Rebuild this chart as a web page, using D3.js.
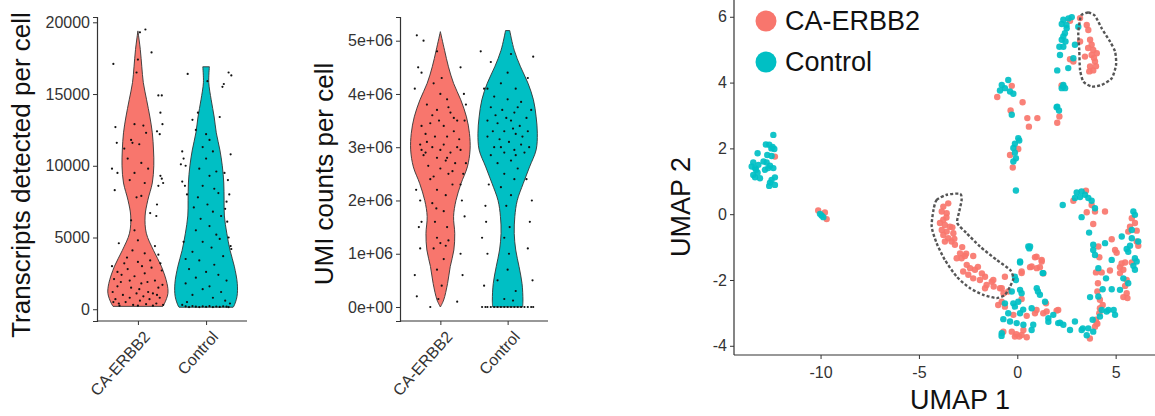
<!DOCTYPE html>
<html>
<head>
<meta charset="utf-8">
<script src="https://cdn.jsdelivr.net/npm/d3@7"></script>
<style>
  body { margin: 0; background: #fff; }
  svg { display: block; font-family: "Liberation Sans", Arial, sans-serif; }
  .tick text { fill: #333; }
  .tick line, .axis-line { stroke: #333; }
</style>
</head>
<body>
<svg id="chart" width="1155" height="416"></svg>
<script>
// ---- data ----
const groups = ['CA-ERBB2', 'Control']
const groupColors = ['#F8766D', '#00BFC4']

// violin outlines (value, relative density)
const transcriptsCaLevels = [19400, 18100, 16900, 15800, 14600, 13400, 12300, 11100, 10000, 8800, 7600, 6500, 5300, 4100, 3000, 1800, 1100, 420, 200]
const transcriptsCaDensity = [0, 0.08, 0.13, 0.18, 0.29, 0.40, 0.48, 0.52, 0.53, 0.48, 0.33, 0.24, 0.28, 0.52, 0.78, 0.97, 1.0, 0.89, 0.83]
const transcriptsCtlLevels = [16900, 15800, 14600, 13400, 12300, 11100, 10000, 8800, 7600, 6500, 5300, 4100, 3000, 1800, 880, 230, 140]
const transcriptsCtlDensity = [0.11, 0.09, 0.17, 0.27, 0.34, 0.46, 0.54, 0.59, 0.60, 0.61, 0.69, 0.80, 0.94, 1.04, 1.03, 0.93, 0.9]

const umiCaLevels = [5.17e6, 4.82e6, 4.51e6, 4.2e6, 3.89e6, 3.57e6, 3.26e6, 2.95e6, 2.63e6, 2.32e6, 2.0e6, 1.7e6, 1.38e6, 1.07e6, 0.76e6, 0.44e6, 0.13e6, 0]
const umiCaDensity = [0, 0.14, 0.27, 0.44, 0.68, 0.87, 0.97, 0.99, 0.9, 0.69, 0.52, 0.44, 0.48, 0.45, 0.33, 0.24, 0.11, 0]
const umiCtlLevels = [5.19e6, 4.82e6, 4.51e6, 4.2e6, 3.89e6, 3.57e6, 3.26e6, 2.95e6, 2.63e6, 2.32e6, 2.0e6, 1.7e6, 1.38e6, 1.07e6, 0.76e6, 0.44e6, 0.13e6, 0]
const umiCtlDensity = [0.07, 0.22, 0.43, 0.68, 0.86, 0.95, 0.99, 0.95, 0.73, 0.52, 0.32, 0.24, 0.22, 0.27, 0.38, 0.48, 0.51, 0.5]

// jittered cells: [jitter offset in group units, value]
const transcriptsCaCells = [
  [-0.36,17100],[0.03,19300],[0.11,19500],[0.2,17900],[-0.02,16500],[0.0,17400],[0.3,14900],[0.35,14900],[0.33,13700],[-0.33,12700],
  [-0.31,11600],[0.36,12900],[0.32,12200],[0.28,12400],[-0.05,12900],[0.08,12800],[0.12,12300],[-0.1,11800],[-0.38,9800],[-0.34,8300],
  [-0.3,9500],[0.35,9100],[0.37,8800],[0.33,9300],[0.3,8600],[0.27,6500],[0.28,7300],[-0.2,11200],[-0.08,11600],[0.02,11500],
  [-0.15,10500],[0.05,10200],[0.15,9800],[-0.05,9500],[-0.12,9000],[0.1,8800],[0.05,7900],[-0.02,7800],[0.18,6700],[-0.1,6200],
  [-0.28,4600],[0.3,3800],[0.25,4400],[0.0,4800],[-0.05,5500],[0.1,3900],
  [-0.38,3000],[-0.35,2100],[-0.3,2600],[-0.25,1900],[-0.2,3200],[-0.15,2800],[-0.1,1500],[-0.05,2300],[0.0,3300],[0.05,1800],
  [0.1,2500],[0.15,1200],[0.2,2900],[0.25,2000],[0.3,1500],[0.35,2700],[-0.37,1200],[-0.33,700],[-0.28,400],[-0.22,1000],
  [-0.18,500],[-0.12,800],[-0.07,300],[-0.02,1100],[0.03,600],[0.08,900],[0.12,350],[0.17,700],[0.22,1100],[0.27,400],
  [0.32,800],[0.37,300],[-0.3,1600],[-0.12,2000],[0.02,1400],[0.14,1900],[0.28,1000],[-0.24,2400],[0.06,3000],[0.18,3400],
  [-0.16,3600],[0.33,3200],[-0.08,4100],[0.22,250],[-0.27,250],[0.0,250],[-0.36,500],[0.36,1700]
]
const transcriptsCtlCells = [
  [-0.27,16400],[0.02,15900],[0.33,16500],[0.37,16300],[0.26,15700],[0.24,15500],[-0.12,13700],[0.2,13400],[-0.2,13200],[-0.35,11000],
  [-0.33,10500],[-0.37,10100],[-0.3,10000],[0.36,10800],[0.27,9500],[0.32,9000],[0.34,8000],[0.3,7500],[0.28,7000],[0.31,6100],
  [0.33,5000],[0.36,4400],[0.37,4200],[-0.33,4700],[-0.3,3500],[-0.35,8900],[-0.31,8600],[-0.28,8000],[0.0,12200],[0.05,11800],
  [0.1,11000],[-0.05,11300],[-0.15,12500],[0.0,10500],[-0.1,9800],[0.15,9600],[0.05,9300],[-0.05,8600],[0.12,8400],[0.18,8100],
  [-0.12,7800],[0.02,7300],[-0.18,7100],[0.1,6800],[0.22,6500],[-0.08,6300],[0.05,5800],[-0.15,5500],[0.15,5200],[0.2,4900],
  [-0.05,4700],[0.08,4300],[-0.2,4000],[0.25,3700],[-0.1,3400],[0.12,3100],[-0.25,2800],[0.0,2600],[0.18,2400],[-0.15,2200],
  [0.3,2000],[-0.3,1800],[0.05,1600],[-0.05,1400],[0.22,1200],[-0.2,1000],[0.1,800],[0.28,600],[-0.28,500],[0.35,400],
  [-0.35,300],[-0.3,200],[-0.25,150],[-0.2,220],[-0.15,180],[-0.1,150],[-0.05,200],[0.0,170],[0.05,210],[0.1,150],
  [0.15,190],[0.2,160],[0.25,200],[0.3,180],[0.33,150]
]
const umiCaCells = [
  [-0.35,5.1e6],[-0.25,5.0e6],[-0.38,4.1e6],[-0.33,4.5e6],[-0.28,4.4e6],[0.3,4.5e6],[0.35,4.0e6],[0.38,3.8e6],[0.3,1.0e6],[0.33,0.6e6],
  [0.25,0.1e6],[-0.38,0.6e6],[-0.3,1.1e6],[-0.28,1.6e6],[-0.32,1.5e6],[-0.15,0],[-0.35,0.2e6],[0.32,2.0e6],[0.36,1.7e6],[0.3,2.3e6],
  [-0.3,2.0e6],[-0.36,2.2e6],[0.36,3.5e6],[0.38,2.7e6],[0.34,2.5e6],
  [-0.05,4.8e6],[0.02,4.3e6],[-0.1,4.2e6],[0.1,3.9e6],[-0.2,3.8e6],[-0.05,3.7e6],[0.15,3.65e6],[0.25,3.5e6],[-0.28,3.4e6],[-0.15,3.45e6],
  [0.05,3.4e6],[0.2,3.3e6],[-0.22,3.25e6],[-0.08,3.2e6],[0.1,3.2e6],[0.28,3.15e6],[-0.3,3.05e6],[-0.12,3.0e6],[0.0,2.95e6],[0.15,2.9e6],
  [0.3,2.95e6],[-0.25,2.85e6],[-0.05,2.8e6],[0.08,2.75e6],[0.22,2.7e6],[-0.18,2.65e6],[0.0,2.6e6],[0.12,2.5e6],[-0.1,2.45e6],[0.18,2.3e6],
  [-0.05,2.2e6],[0.08,2.1e6],[-0.12,1.95e6],[0.05,1.8e6],[-0.08,1.6e6],[0.1,1.5e6],[-0.05,1.3e6],[0.0,1.2e6],[0.08,1.15e6],[-0.1,1.1e6],
  [0.05,0.9e6],[-0.05,0.7e6],[0.02,0.4e6],[-0.03,0.15e6],[0.2,3.55e6],[-0.2,3.1e6],[0.05,3.05e6],[-0.02,3.5e6],[0.12,3.75e6],[-0.12,3.6e6],
  [0.25,3.0e6],[-0.28,2.95e6],[0.18,2.55e6],[-0.15,2.4e6],[0.1,2.8e6],[-0.22,2.9e6],[0.0,4.0e6],[-0.06,1.85e6],[0.12,1.25e6]
]
const umiCtlCells = [
  [-0.4,4.8e6],[-0.25,4.6e6],[-0.3,4.1e6],[-0.35,4.1e6],[0.38,4.7e6],[0.3,4.3e6],[0.35,3.7e6],[0.32,3.0e6],[0.36,2.0e6],[0.33,1.6e6],
  [0.3,1.1e6],[-0.33,1.9e6],[-0.38,1.3e6],[-0.3,1.0e6],[-0.35,0.4e6],[0.37,0.5e6],[-0.32,1.6e6],[0.28,2.4e6],[-0.28,2.3e6],
  [0.05,4.75e6],[0.0,4.4e6],[-0.1,4.2e6],[0.12,4.1e6],[-0.2,3.95e6],[0.0,3.9e6],[0.2,3.85e6],[-0.25,3.75e6],[-0.08,3.7e6],[0.1,3.65e6],
  [0.28,3.55e6],[-0.3,3.5e6],[-0.15,3.45e6],[0.05,3.5e6],[0.18,3.4e6],[-0.22,3.3e6],[-0.05,3.3e6],[0.12,3.25e6],[0.3,3.3e6],[-0.3,3.2e6],
  [-0.12,3.15e6],[0.02,3.1e6],[0.2,3.05e6],[-0.2,3.0e6],[0.1,2.95e6],[-0.05,2.9e6],[0.25,2.9e6],[-0.25,2.85e6],[0.05,2.75e6],[-0.15,2.7e6],
  [0.15,2.6e6],[-0.05,2.5e6],[0.1,2.4e6],[-0.1,2.25e6],[0.05,2.1e6],[-0.02,1.9e6],[0.03,1.5e6],[-0.05,1.3e6],[0.02,1.0e6],[0.0,0.7e6],
  [-0.15,0.5e6],[0.12,0.3e6],[-0.05,0.15e6],[0.08,0.12e6],[0.15,3.75e6],[-0.02,3.55e6],[0.22,3.2e6],[-0.1,3.0e6],[0.12,2.85e6],[-0.18,3.6e6],
  [0.08,3.35e6],
  [-0.38,0],[-0.33,0],[-0.3,0],[-0.25,0],[-0.2,0],[-0.15,0],[-0.1,0],[-0.05,0],[0.0,0],[0.05,0],
  [0.1,0],[0.15,0],[0.2,0],[0.25,0],[0.3,0],[0.35,0],[0.38,0]
]

const transcriptsTicks = [0, 5000, 10000, 15000, 20000]
const umiTicks = [0, 1e6, 2e6, 3e6, 4e6, 5e6]

// UMAP embedding [umap1, umap2]
const umapCa = [
  [-12.32,1.75],[-10.12,0.11],[-9.78,0.05],[-9.69,-0.15],
  [3.19,5.96],[3.53,5.75],[3.61,5.60],[3.19,5.25],[3.70,5.30],[3.78,5.15],[3.86,4.99],[4.04,4.89],[3.78,4.84],[3.44,4.79],
  [3.95,4.64],[3.70,4.49],[3.86,4.37],[3.66,4.34],[2.68,4.71],[2.85,4.64],[2.68,5.88],[2.25,3.91],[3.9,4.75],[3.6,5.05],[4.0,4.5],
  [-0.28,3.90],[-1.02,3.56],[0.27,3.40],[-0.34,3.15],[0.51,2.92],[1.02,2.92],[0.59,2.66],[0.05,1.98],[-0.37,1.80],[-0.23,1.42],
  [2.14,2.97],[2.03,2.78],
  [-3.51,0.33],[-3.76,0.23],[-3.84,0.08],[-3.59,0.03],[-3.76,-0.17],[-3.93,-0.27],[-3.68,-0.33],[-3.42,-0.38],[-3.84,-0.48],[-3.59,-0.53],
  [-3.25,-0.58],[-3.76,-0.63],[-3.51,-0.73],[-3.68,-0.83],[-3.34,-0.83],[-3.17,-0.93],[-2.91,-1.19],[-3.08,-1.34],[-2.83,-1.34],[-2.66,-1.27],
  [-2.24,-1.27],[-2.57,-1.54],[-2.40,-1.64],[-2.75,-1.74],[-2.15,-1.69],[-2.49,-1.84],[-2.24,-1.95],[-1.64,-1.90],[-1.90,-2.00],[-1.30,-2.05],
  [-1.56,-2.15],[-1.64,-2.25],[-0.88,-2.25],[-1.22,-2.00],[-0.79,-2.66],[-0.97,-2.76],[-0.63,-2.81],
  [-3.3,-0.4],[-2.8,-1.0],[-2.6,-1.2],[-2.0,-1.6],[-1.8,-1.8],[-1.2,-2.2],[-0.7,-2.4],[-3.6,-0.1],[-3.2,-0.75],
  [0.65,-1.61],[1.15,-1.61],[-0.63,-1.90],[0.22,-1.79],[-0.79,-2.25],[-0.46,-2.35],[0.22,-2.58],[-0.20,-3.06],[0.48,-3.09],[0.90,-3.01],
  [1.46,-2.71],[1.32,-3.01],[2.08,-2.91],[-0.71,-3.57],[-0.28,-3.57],[-0.12,-3.72],[0.22,-3.67],[0.48,-3.74],[0.31,-3.52],[0.98,-1.29],
  [1.24,-1.39],[0.73,-1.59],[1.32,-1.80],[0.98,-2.91],[1.49,-2.96],[2.0,-2.93],[1.24,-1.44],[0.90,-1.31],[0.99,-1.64],[0.22,-1.74],
  [-0.05,-3.65],[0.1,-3.72],
  [3.49,0.71],[2.85,0.41],[3.78,0.28],[3.53,0.06],[3.95,0.08],[4.46,0.08],[3.86,-0.30],[5.82,-0.12],[5.98,-0.27],[5.73,-0.38],
  [6.07,-0.50],[5.64,-0.53],[6.07,-0.83],[6.15,-0.96],[4.80,-0.76],[4.97,-1.09],[5.05,-1.17],[4.12,-0.98],[4.17,-1.31],[5.82,-1.47],
  [5.48,-1.47],[5.22,-1.61],[5.39,-1.69],[4.00,-1.77],[4.29,-1.77],[4.71,-1.71],[5.22,-1.79],[5.56,-2.00],[5.48,-2.18],[5.56,-2.40],
  [5.39,-2.52],[4.07,-2.35],[4.20,-2.60],[4.34,-2.76],[4.20,-2.86],[4.17,-3.01],[4.00,-3.21],[4.07,-3.33],[3.95,-3.42],[3.69,-3.78],
  [4.03,-3.32],[5.3,-1.5],[5.6,-2.55],[4.1,-2.1]
]
const umapControl = [
  [-12.4,2.41],[-12.78,2.12],[-12.61,2.11],[-12.44,2.04],[-12.35,1.98],[-13.2,1.85],[-12.71,1.80],[-12.49,1.77],[-13.42,1.57],[-13.16,1.50],
  [-13.33,1.40],[-12.74,1.57],[-12.57,1.47],[-12.40,1.40],[-12.83,1.35],[-12.66,1.40],[-13.42,1.19],[-13.33,1.12],[-13.08,1.09],[-12.32,1.12],
  [-12.49,1.04],[-12.57,0.96],[-12.32,0.89],[-12.61,0.86],[-13.28,1.35],[-13.2,1.26],[-13.5,1.45],[-12.9,1.6],[-12.5,2.0],
  [-9.95,-0.04],[-9.86,-0.09],[-10.03,0.01],
  [2.34,5.91],[2.77,5.99],[2.26,5.78],[2.51,5.65],[2.42,5.50],[2.34,5.40],[2.26,5.30],[2.14,5.09],[2.34,5.09],[2.93,5.15],
  [3.10,5.70],[2.17,4.84],[2.85,4.74],[2.59,4.44],[2.03,4.37],[2.34,3.88],[2.26,3.83],[2.00,3.25],[2.5,5.75],[2.45,5.25],[2.6,5.95],
  [-0.46,4.08],[-0.79,3.93],[-0.63,3.83],[-0.88,3.76],[-0.37,3.73],[-0.20,3.66],[-0.28,3.02],[0.05,2.31],[0.10,2.24],[-0.12,2.14],
  [-0.20,2.01],[-0.12,1.87],[-0.07,1.70],[-0.20,1.60],[-0.07,0.72],[2.34,3.93],[2.43,3.83],[2.03,3.27],[2.12,3.15],
  [-0.12,-1.90],[-0.07,-2.00],[-0.28,-2.35],[0.14,-2.30],[0.14,-1.44],[0.56,-0.98],[0.14,-1.47],[1.29,-1.79],[-0.63,-2.71],[-0.20,-2.71],
  [0.05,-2.66],[-0.12,-2.81],[-0.46,-3.01],[-0.71,-3.19],[-0.37,-3.26],[0.22,-2.40],[0.14,-3.01],[-0.03,-3.31],[0.31,-3.36],[0.73,-2.86],
  [0.99,-2.25],[1.15,-2.45],[1.41,-2.66],[1.58,-3.16],[1.83,-3.06],[2.08,-3.31],[2.34,-3.36],[2.68,-3.52],[2.93,-3.26],[-0.79,-3.62],
  [0.73,-3.52],[0.81,-3.36],[0.61,-1.04],[1.58,-3.27],[2.17,-3.30],[0.65,-0.98],[1.32,-1.79],[-0.8,-3.7],[1.05,-2.35],[0.3,-2.9],
  [3.02,0.66],[3.27,0.69],[3.44,0.59],[3.19,0.52],[2.93,0.49],[3.61,0.49],[3.78,0.41],[3.95,0.18],[2.31,0.28],[3.27,-0.09],
  [3.65,-0.56],[5.90,0.08],[5.98,-0.02],[5.82,-0.48],[5.82,-0.73],[6.15,-0.83],[5.31,-0.68],[5.73,-0.96],[5.56,-1.06],[5.64,-1.14],
  [4.46,-0.88],[3.86,-0.93],[3.86,-1.09],[3.95,-1.24],[4.80,-1.39],[5.98,-1.34],[6.07,-1.44],[5.90,-1.57],[5.98,-1.69],[4.12,-1.64],
  [4.51,-1.95],[5.39,-1.95],[5.64,-2.10],[5.22,-2.30],[4.80,-2.28],[4.34,-2.28],[4.12,-2.50],[3.70,-2.52],[4.63,-2.91],[4.90,-2.91],
  [4.97,-3.06],[4.20,-3.11],[3.83,-3.21],[3.33,-3.47],[3.61,-3.47],[3.27,-3.52],[3.53,-3.68],[3.86,-3.57],[4.29,-2.91],[4.54,-2.96]
]

// dashed selections drawn on the embedding
const outlineTop = [
  [3.27,6.06],[3.61,6.13],[3.95,6.03],[4.29,5.65],[4.71,5.25],[4.97,4.94],[5.02,4.54],[4.80,4.13],[4.29,3.93],[3.78,3.88],
  [3.36,4.03],[3.19,4.39],[3.15,4.99],[3.10,5.50],[3.19,5.91]
]
const outlineArm = [
  [-4.26,0.13],[-4.10,0.43],[-3.59,0.59],[-2.91,0.62],[-2.83,0.43],[-2.95,0.08],[-3.05,-0.27],[-2.57,-0.58],[-1.90,-0.98],[-1.05,-1.39],
  [-0.37,-1.69],[-0.20,-1.95],[-0.37,-2.20],[-0.63,-2.45],[-1.05,-2.55],[-1.73,-2.45],[-2.40,-2.25],[-3.08,-1.90],[-3.68,-1.39],[-4.10,-0.88],
  [-4.35,-0.38]
]
const umapXTicks = [-10, -5, 0, 5]
const umapYTicks = [-4, -2, 0, 2, 4, 6]

// ---- drawing ----
const svg = d3.select('#chart')

function zipProfile(levels, density) {
  return levels.map((v, i) => ({ value: v, density: density[i] }))
}

function drawViolinPanel(cfg) {
  const g = svg.append('g')

  const x = d3.scalePoint().domain(groups).range(cfg.xRange).padding(0.6)
  const y = d3.scaleLinear().domain(cfg.yDomain).range([321, 17])
  const w = d3.scaleLinear().domain([0, 1]).range([0, 30])
  const step = x.step()

  cfg.violins.forEach((vio, i) => {
    const cx = x(groups[i])
    const area = d3.area()
      .curve(d3.curveCatmullRom)
      .y(d => y(d.value))
      .x0(d => cx - w(d.density))
      .x1(d => cx + w(d.density))
    g.append('path')
      .attr('d', area(vio))
      .attr('fill', groupColors[i])
      .attr('stroke', '#333')
      .attr('stroke-width', 0.9)
  })

  cfg.cells.forEach((cells, i) => {
    const cx = x(groups[i])
    g.selectAll(null)
      .data(cells)
      .join('circle')
      .attr('cx', d => cx + d[0] * step)
      .attr('cy', d => y(d[1]))
      .attr('r', 1.1)
      .attr('fill', '#111')
  })

  // axes
  const yAxis = d3.axisLeft(y).tickValues(cfg.ticks).tickSize(4).tickFormat(cfg.format)
  const yg = g.append('g').attr('transform', `translate(${cfg.xRange[0]},0)`).call(yAxis)
  yg.select('.domain').attr('stroke', '#333').attr('stroke-width', 1.2)
  yg.selectAll('.tick text').attr('font-size', 16)

  const xAxis = d3.axisBottom(x).tickSize(4).tickFormat('')
  const xg = g.append('g').attr('transform', 'translate(0,321)').call(xAxis)
  xg.select('.domain').attr('d', `M${cfg.xRange[0]},0H${cfg.xRange[1]}`).attr('stroke', '#333').attr('stroke-width', 1.2)

  groups.forEach(name => {
    const tx = x(name) + 6
    g.append('text')
      .attr('transform', `translate(${tx},331) rotate(-48)`)
      .attr('text-anchor', 'end')
      .attr('dy', '0.6em')
      .attr('font-size', 16)
      .attr('fill', '#333')
      .text(name)
  })

  g.append('text')
    .attr('transform', `translate(${cfg.labelX},${cfg.labelY}) rotate(-90)`)
    .attr('text-anchor', 'middle')
    .attr('font-size', 26)
    .attr('fill', '#111')
    .text(cfg.label)
}

drawViolinPanel({
  xRange: [97, 247],
  yDomain: [-820, 20370],
  ticks: transcriptsTicks,
  format: d3.format('d'),
  violins: [zipProfile(transcriptsCaLevels, transcriptsCaDensity), zipProfile(transcriptsCtlLevels, transcriptsCtlDensity)],
  cells: [transcriptsCaCells, transcriptsCtlCells],
  label: 'Transcripts detected per cell',
  labelX: 30,
  labelY: 175
})

drawViolinPanel({
  xRange: [400, 548],
  yDomain: [-263000, 5445000],
  ticks: umiTicks,
  format: d => d === 0 ? '0e+00' : (d / 1e6) + 'e+06',
  violins: [zipProfile(umiCaLevels, umiCaDensity), zipProfile(umiCtlLevels, umiCtlDensity)],
  cells: [umiCaCells, umiCtlCells],
  label: 'UMI counts per cell',
  labelX: 333,
  labelY: 174
})

// UMAP panel
function drawUmap() {
  const g = svg.append('g')
  const x = d3.scaleLinear().domain([-14.4, 7.0]).range([734, 1155])
  const y = d3.scaleLinear().domain([-4.28, 6.51]).range([355, 0])

  const outline = d3.line().curve(d3.curveCardinalClosed.tension(0.3)).x(d => x(d[0])).y(d => y(d[1]))

  ;[umapCa, umapControl].forEach((pts, i) => {
    g.selectAll(null)
      .data(pts)
      .join('circle')
      .attr('cx', d => x(d[0]))
      .attr('cy', d => y(d[1]))
      .attr('r', 3.2)
      .attr('fill', groupColors[i])
      .attr('fill-opacity', 0.92)
  })

  ;[outlineTop, outlineArm].forEach(pts => {
    g.append('path')
      .attr('d', outline(pts))
      .attr('fill', 'none')
      .attr('stroke', '#555')
      .attr('stroke-width', 2.4)
      .attr('stroke-dasharray', '3,2')
  })

  const xg = g.append('g').attr('transform', 'translate(0,355)')
    .call(d3.axisBottom(x).tickValues(umapXTicks).tickSize(4).tickFormat(d => String(d)))
  xg.select('.domain').attr('d', 'M734,0H1155').attr('stroke', '#333').attr('stroke-width', 1.2)
  xg.selectAll('.tick text').attr('font-size', 16).attr('dy', '1em')

  const yg = g.append('g').attr('transform', 'translate(734,0)')
    .call(d3.axisLeft(y).tickValues(umapYTicks).tickSize(4).tickFormat(d => String(d)))
  yg.select('.domain').attr('d', 'M0,0V355').attr('stroke', '#333').attr('stroke-width', 1.2)
  yg.selectAll('.tick text').attr('font-size', 16)

  g.append('text')
    .attr('x', 960).attr('y', 409)
    .attr('text-anchor', 'middle')
    .attr('font-size', 27)
    .attr('fill', '#111')
    .text('UMAP 1')

  g.append('text')
    .attr('transform', 'translate(690,207) rotate(-90)')
    .attr('text-anchor', 'middle')
    .attr('font-size', 27)
    .attr('fill', '#111')
    .text('UMAP 2')

  // legend
  const legend = g.append('g')
  groups.forEach((name, i) => {
    const ly = 21 + i * 41
    legend.append('circle').attr('cx', 766).attr('cy', ly).attr('r', 10.5).attr('fill', groupColors[i])
    legend.append('text')
      .attr('x', 785).attr('y', ly + 9)
      .attr('font-size', 27)
      .attr('fill', '#111')
      .text(name)
  })
}

drawUmap()
</script>
</body>
</html>
